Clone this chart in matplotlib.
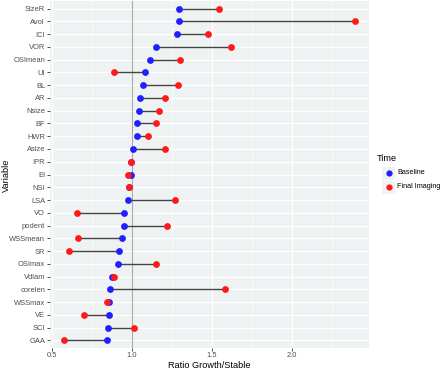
import matplotlib
matplotlib.use("Agg")
import matplotlib.pyplot as plt
from matplotlib.patches import Rectangle
from matplotlib.lines import Line2D
import numpy as np

plt.rcParams['font.family'] = ['Liberation Sans', 'DejaVu Sans']

variables = ["SizeR", "Avol", "ICI", "VOR", "OSImean", "UI", "BL", "AR", "Nsize", "BF",
             "HWR", "Asize", "IPR", "EI", "NSI", "LSA", "VO", "podent", "WSSmean", "SR",
             "OSImax", "Vdiam", "corelen", "WSSmax", "VE", "SCI", "GAA"]
baseline = [1.29, 1.29, 1.279, 1.15, 1.11, 1.082, 1.067, 1.048, 1.044, 1.03,
            1.03, 1.007, 0.995, 0.992, 0.98, 0.972, 0.951, 0.947, 0.94, 0.917,
            0.911, 0.875, 0.86, 0.855, 0.853, 0.851, 0.841]
final = [1.545, 2.39, 1.472, 1.62, 1.30, 0.89, 1.285, 1.206, 1.167, 1.15,
         1.10, 1.204, 0.995, 0.972, 0.978, 1.265, 0.656, 1.217, 0.66, 0.608,
         1.148, 0.885, 1.582, 0.841, 0.70, 1.009, 0.575]
xticks = [0.5, 1.0, 1.5, 2.0]
xtick_labels = ["0.5", "1.0", "1.5", "2.0"]

W, H = 440, 370
fig = plt.figure(figsize=(W/100, H/100), dpi=100)
left, right, top, bottom = 49.5, 369.2, 1, 348
ax = fig.add_axes([left/W, (H-bottom)/H, (right-left)/W, (bottom-top)/H])

panel_bg = "#EEF2F2"
ax.set_facecolor(panel_bg)
for s in ax.spines.values():
    s.set_visible(False)

n = len(variables)
ypos = np.arange(n)[::-1]

x0 = min(min(baseline), min(final)); x1 = max(max(baseline), max(final))
pad = (x1 - x0) * 0.05
ax.set_xlim(x0 - pad, x1 + pad)
ax.set_ylim(-0.6, n - 1 + 0.6)

# grid
for v in [0.75, 1.25, 1.75, 2.25]:
    ax.axvline(v, color="white", lw=0.5, zorder=0)
for v in xticks:
    ax.axvline(v, color="white", lw=1.0, zorder=0)
for y in ypos:
    ax.axhline(y, color="white", lw=1.0, zorder=0)
ax.axvline(1.0, color="#AAAAAA", lw=0.8, zorder=1)

for y, b, f in zip(ypos, baseline, final):
    ax.plot([b, f], [y, y], color="#444444", lw=1.0, zorder=2, solid_capstyle="butt")
ax.scatter(baseline, ypos, s=24, color="#1F1FFF", zorder=3, linewidths=0)
ax.scatter(final, ypos, s=24, color="#FF1A1A", zorder=4, linewidths=0)

ax.set_xticks(xticks)
ax.set_xticklabels(xtick_labels)
ax.set_yticks(ypos)
ax.set_yticklabels(variables)
ax.tick_params(axis="both", labelsize=5.4, labelcolor="#4D4D4D", color="#333333",
               length=2.0, width=0.6, pad=1.2)

# axis titles
fig.text((left + right) / 2 / W, 1 - 365/H, "Ratio Growth/Stable", fontsize=6.6,
         ha="center", va="center")
fig.text(6/W, 1 - 175/H, "Variable", fontsize=6.6, rotation=90,
         ha="center", va="center")

# legend (manual)
fig.text(377/W, 1 - 158/H, "Time", fontsize=6.6, va="center", ha="left")
entries = [("Baseline", "#1F1FFF", 173), ("Final Imaging", "#FF1A1A", 187)]
for label, col, yc in entries:
    kx, ks = 382, 13
    fig.patches.append(Rectangle((kx/W, 1 - (yc + ks/2)/H), ks/W, ks/H,
                                 transform=fig.transFigure, facecolor="#F2F2F2",
                                 edgecolor="none"))
    fig.lines.append(Line2D([(kx + ks/2)/W], [1 - yc/H], transform=fig.transFigure,
                            marker="o", markersize=4.5, color=col, linestyle="none",
                            markeredgewidth=0))
    fig.text(397/W, 1 - yc/H, label, fontsize=5.2, va="center", ha="left")

fig.savefig("out.png", dpi=100, facecolor="white")
